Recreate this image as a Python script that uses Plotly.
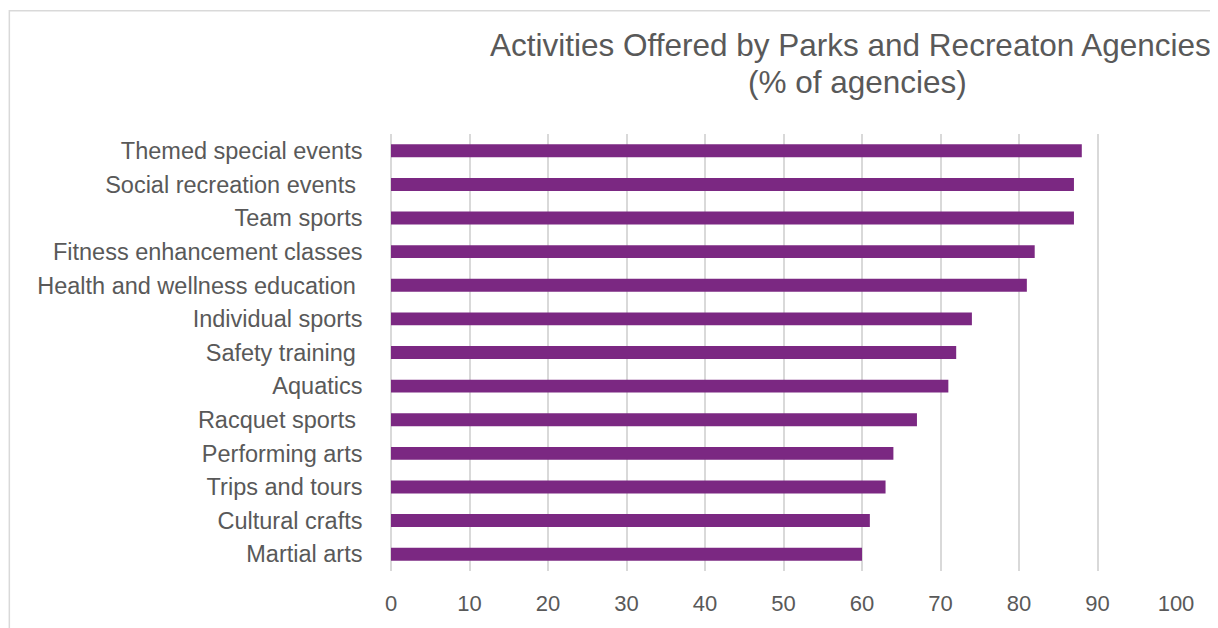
import plotly.graph_objects as go

categories = [
    "Themed special events",
    "Social recreation events ",
    "Team sports",
    "Fitness enhancement classes",
    "Health and wellness education ",
    "Individual sports",
    "Safety training ",
    "Aquatics",
    "Racquet sports ",
    "Performing arts",
    "Trips and tours",
    "Cultural crafts",
    "Martial arts",
]
values = [88, 87, 87, 82, 81, 74, 72, 71, 67, 64, 63, 61, 60]
x_ticks = [0, 10, 20, 30, 40, 50, 60, 70, 80, 90, 100]
title_lines = ["Activities Offered by Parks and Recreaton Agencies", "(% of agencies)"]

# page has an 8px body margin; figure coordinates are screen coordinates minus 8
OFF = 8
W, H = 1218 - OFF, 628 - OFF
L, R, T, B = 390.5 - OFF, 1176 - OFF, 134 - OFF, 575 - OFF

def px_x(p):
    return (p - OFF - L) / (R - L)

def px_y(p):
    return (B - (p - OFF)) / (B - T)

TEXT = "#595959"
GRID = "#D9D9D9"
FONT = "Liberation Sans, Arial, sans-serif"

labels = [c.rstrip() + "\u00a0" * (1 + (len(c) - len(c.rstrip()))) for c in categories]

fig = go.Figure(go.Bar(
    x=values,
    y=categories,
    orientation="h",
    marker=dict(color="#7B2882", line=dict(width=0)),
))

fig.update_layout(
    width=W, height=H,
    margin=dict(l=L, r=W - R, t=T, b=H - B, pad=0),
    paper_bgcolor="white",
    plot_bgcolor="white",
    bargap=0.615,
    showlegend=False,
    font=dict(family=FONT, color=TEXT, size=22),
    xaxis=dict(
        range=[0, 100],
        tickvals=x_ticks,
        ticktext=[str(v) for v in x_ticks],
        showgrid=True, gridcolor=GRID, gridwidth=1.5,
        zeroline=True, zerolinecolor=GRID, zerolinewidth=1.5,
        showline=False, ticks="", ticklen=0,
        tickfont=dict(size=22, color=TEXT),
        ticklabelstandoff=17,
        fixedrange=True,
    ),
    yaxis=dict(
        categoryorder="array",
        categoryarray=categories,
        tickvals=categories,
        ticktext=labels,
        autorange="reversed",
        showgrid=False, zeroline=False, showline=False,
        ticks="",
        tickfont=dict(size=23.5, color=TEXT),
        ticklabelstandoff=21,
    ),
    shapes=[
        dict(type="rect", xref="paper", yref="paper",
             x0=px_x(8.6), x1=px_x(1240), y0=px_y(650), y1=px_y(9.6),
             line=dict(color=GRID, width=1.5), fillcolor="rgba(0,0,0,0)", layer="below"),
    ],
    annotations=[
        dict(text=title_lines[0], xref="paper", yref="paper",
             x=px_x(850), y=px_y(44.5), xanchor="center", yanchor="middle",
             showarrow=False, font=dict(size=31.5, color=TEXT, family=FONT)),
        dict(text=title_lines[1], xref="paper", yref="paper",
             x=px_x(857), y=px_y(82), xanchor="center", yanchor="middle",
             showarrow=False, font=dict(size=31.5, color=TEXT, family=FONT)),
    ],
)

fig.write_html("out.html")
